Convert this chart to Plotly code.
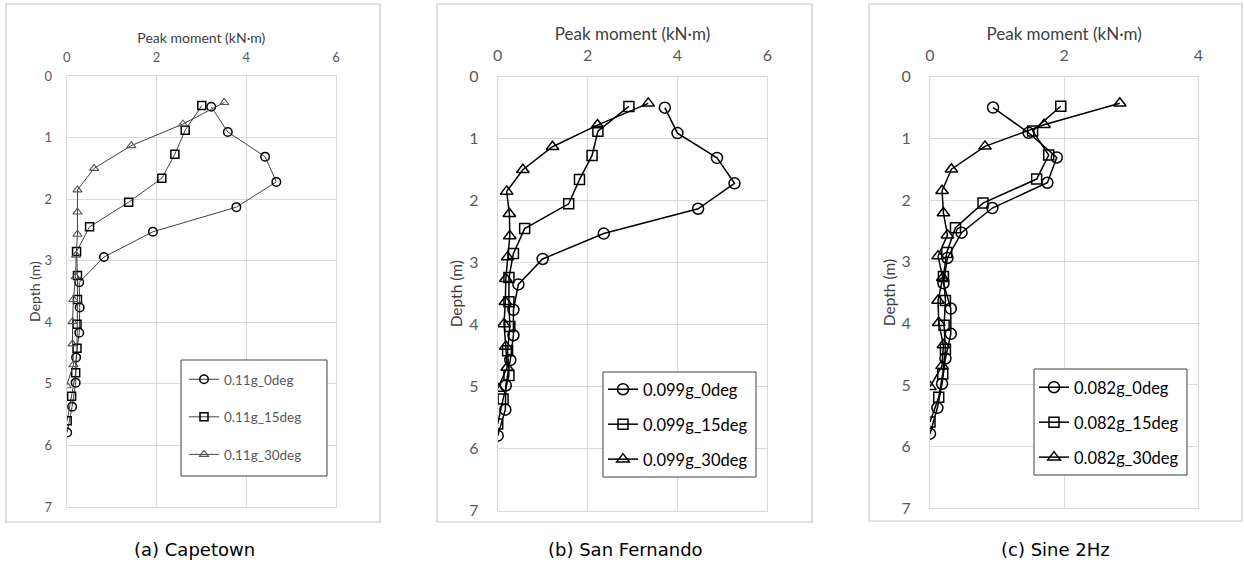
import plotly.graph_objects as go

# ---------------- data ----------------
depth_0deg = [0.50, 0.91, 1.31, 1.72, 2.13, 2.53, 2.94, 3.35, 3.76, 4.17, 4.57, 4.98, 5.37, 5.79]
depth_15deg = [0.48, 0.88, 1.27, 1.66, 2.05, 2.45, 2.85, 3.24, 3.63, 4.03, 4.42, 4.82, 5.20, 5.60]
depth_30deg = [0.43, 0.78, 1.13, 1.50, 1.85, 2.21, 2.57, 2.91, 3.26, 3.63, 3.99, 4.35, 4.69, 5.03]

capetown_0deg = [3.22, 3.59, 4.42, 4.67, 3.78, 1.92, 0.83, 0.28, 0.29, 0.28, 0.21, 0.20, 0.12, 0.01]
capetown_15deg = [3.01, 2.64, 2.41, 2.12, 1.38, 0.51, 0.22, 0.24, 0.24, 0.23, 0.23, 0.20, 0.11, 0.01]
capetown_30deg = [3.51, 2.59, 1.44, 0.61, 0.24, 0.24, 0.24, 0.21, 0.20, 0.15, 0.13, 0.13, 0.15, 0.00]

sanfernando_0deg = [3.72, 4.00, 4.88, 5.27, 4.46, 2.36, 1.00, 0.46, 0.35, 0.35, 0.28, 0.18, 0.17, 0.00]
sanfernando_15deg = [2.92, 2.23, 2.10, 1.82, 1.58, 0.60, 0.35, 0.25, 0.25, 0.27, 0.22, 0.25, 0.12, 0.00]
sanfernando_30deg = [3.35, 2.22, 1.22, 0.56, 0.20, 0.26, 0.27, 0.22, 0.18, 0.17, 0.14, 0.18, 0.21, 0.00]

sine_0deg = [0.94, 1.47, 1.89, 1.75, 0.93, 0.47, 0.26, 0.20, 0.31, 0.31, 0.23, 0.18, 0.11, 0.00]
sine_15deg = [1.95, 1.53, 1.77, 1.59, 0.79, 0.38, 0.25, 0.20, 0.23, 0.21, 0.23, 0.19, 0.13, 0.00]
sine_30deg = [2.83, 1.70, 0.82, 0.32, 0.18, 0.20, 0.26, 0.12, 0.19, 0.12, 0.13, 0.20, 0.18, 0.00]

names_a = ["0.11g_0deg", "0.11g_15deg", "0.11g_30deg"]
names_b = ["0.099g_0deg", "0.099g_15deg", "0.099g_30deg"]
names_c = ["0.082g_0deg", "0.082g_15deg", "0.082g_30deg"]
captions = ["(a) Capetown", "(b) San Fernando", "(c) Sine 2Hz"]
x_title = "Peak moment (kN·m)"
y_title = "Depth (m)"

W, H = 1244, 567
def px(v):
    return v / W
def py(v):
    return 1 - v / H

FONT = "Lato, Open Sans, sans-serif"
fig = go.Figure()

panels = [
    dict(ax="", vals=[capetown_0deg, capetown_15deg, capetown_30deg], names=names_a,
         xdom=[66.7, 336.0], ydom=[507.0, 76.0], xmax=6, leg="legend",
         tfs=13, xtfs=14, ytfs=14, lfs=13.5, lcolor="#595959",
         msz=[8.5, 8, 8], lw=1, lcol="#404040", tri_col="#555555",
         xstand=8, ystand=11, ytstand=0, xtstand=1,
         legpos=(184, 364), box=(181, 360, 327, 476), gap=17),
    dict(ax="2", vals=[sanfernando_0deg, sanfernando_15deg, sanfernando_30deg], names=names_b,
         xdom=[497.7, 767.3], ydom=[510.7, 76.7], xmax=6, leg="legend2",
         tfs=16, xtfs=17, ytfs=15.5, lfs=16.5, lcolor="#000000",
         msz=[11, 10, 11], lw=1.5, lcol="#000000", tri_col="#000000",
         xstand=8, ystand=15, ytstand=2, xtstand=0,
         legpos=(603, 372), box=(603, 372, 756, 477), gap=10.5),
    dict(ax="3", vals=[sine_0deg, sine_15deg, sine_30deg], names=names_c,
         xdom=[930.0, 1198.3], ydom=[508.3, 76.7], xmax=4, leg="legend3",
         tfs=16, xtfs=17, ytfs=15.5, lfs=16.5, lcolor="#000000",
         msz=[11, 10, 11], lw=1.5, lcol="#000000", tri_col="#000000",
         xstand=8, ystand=15, ytstand=2, xtstand=0,
         legpos=(1034, 370), box=(1034, 369, 1187, 475), gap=10.5),
]

depths = [depth_0deg, depth_15deg, depth_30deg]
symbols = ["circle-open", "square-open", "triangle-up-open"]

shapes = []
annotations = []
frames = [(6, 4, 380, 522), (437, 4, 812, 522), (869, 4, 1242, 521)]
for (x0, y0, x1, y1) in frames:
    shapes.append(dict(type="rect", xref="paper", yref="paper", x0=px(x0), x1=px(x1),
                       y0=py(y1), y1=py(y0), line=dict(color="#c8c8c8", width=1.2),
                       layer="below"))

for i, p in enumerate(panels):
    xa = "x" + p["ax"]
    ya = "y" + p["ax"]
    for k in range(3):
        col = "#000000" if k < 2 else p["tri_col"]
        fig.add_trace(go.Scatter(
            x=p["vals"][k], y=depths[k], xaxis=xa, yaxis=ya, mode="lines+markers",
            name=p["names"][k], legend=p["leg"], legendgroup=p["leg"] + str(k),
            line=dict(color=p["lcol"], width=p["lw"]),
            marker=dict(symbol=symbols[k], size=p["msz"][k], color=col,
                        line=dict(width=1.5 if (k < 2 or p["ax"] != "") else 1.1, color=col)),
            showlegend=True,
        ))
    axis_common = dict(showgrid=True, gridcolor="#d9d9d9", gridwidth=1,
                       showline=True, mirror=True, linecolor="#d9d9d9", linewidth=1,
                       zeroline=False, ticks="", automargin=False)
    fig.update_layout(**{
        "xaxis" + p["ax"]: dict(axis_common, domain=[px(p["xdom"][0]), px(p["xdom"][1])],
                                anchor=ya, side="top", range=[0, p["xmax"]], dtick=2,
                                tick0=0, ticklabelstandoff=p["xstand"],
                                tickfont=dict(family=FONT, size=p["tfs"], color="#595959"),
                                title=dict(text=x_title, standoff=p["xtstand"],
                                           font=dict(family=FONT, size=p["xtfs"], color="#404040"))),
        "yaxis" + p["ax"]: dict(axis_common, domain=[py(p["ydom"][0]), py(p["ydom"][1])],
                                anchor=xa, range=[7, 0], dtick=1, tick0=0,
                                ticklabelstandoff=p["ystand"],
                                tickfont=dict(family=FONT, size=p["tfs"], color="#595959"),
                                title=dict(text=y_title, standoff=p["ytstand"],
                                           font=dict(family=FONT, size=p["ytfs"], color="#404040"))),
        p["leg"]: dict(x=px(p["legpos"][0]), y=py(p["legpos"][1]), xref="paper", yref="paper",
                       xanchor="left", yanchor="top", bgcolor="rgba(0,0,0,0)",
                       borderwidth=0, tracegroupgap=p["gap"], traceorder="grouped",
                       font=dict(family=FONT, size=p["lfs"], color=p["lcolor"])),
    })
    bx0, by0, bx1, by1 = p["box"]
    shapes.append(dict(type="rect", xref="paper", yref="paper", x0=px(bx0), x1=px(bx1),
                       y0=py(by1), y1=py(by0), line=dict(color="#404040", width=1),
                       fillcolor="white", layer="above"))

caption_x = [194, 625, 1055]
for cx, txt in zip(caption_x, captions):
    annotations.append(dict(text=txt, x=px(cx), y=py(549), xref="paper", yref="paper",
                            showarrow=False, xanchor="center", yanchor="middle",
                            font=dict(family="DejaVu Sans, sans-serif",
                                      size=18, color="#000000")))

fig.update_layout(width=W, height=H, margin=dict(l=0, r=0, t=0, b=0, autoexpand=False),
                  paper_bgcolor="white", plot_bgcolor="white",
                  shapes=shapes, annotations=annotations, showlegend=True)

fig.write_html("out.html")
